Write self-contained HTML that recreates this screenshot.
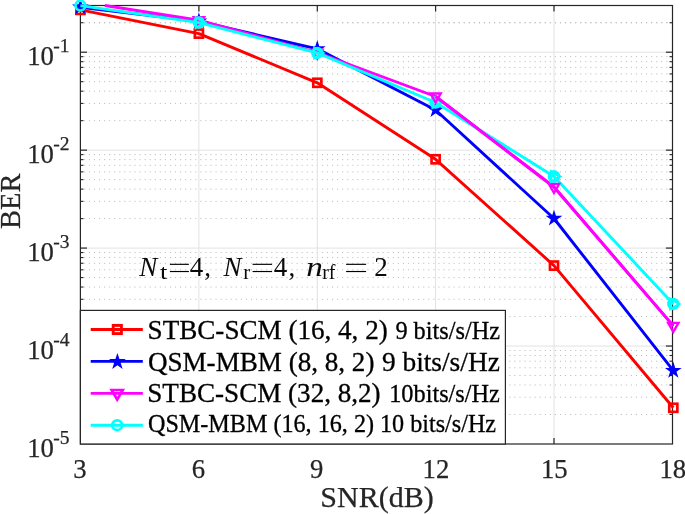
<!DOCTYPE html>
<html><head><meta charset="utf-8"><title>BER</title>
<style>html,body{margin:0;padding:0;background:#fff;}svg{display:block;will-change:transform;}text{font-family:"Liberation Serif",serif;fill:#262626;stroke:#262626;stroke-width:0.25px;}.k{fill:#000;stroke:#000;stroke-width:0.3px;}.a{fill:#0a0a0a;stroke:none;}</style></head><body>
<svg width="685" height="514" viewBox="0 0 685 514">
<rect width="685" height="514" fill="#fff"/>
<line x1="83.8" x2="672.5" y1="22.72" y2="22.72" stroke="#bcbcbc" stroke-width="1" stroke-dasharray="1.1 3.9654"/>
<line x1="83.8" x2="672.5" y1="120.66" y2="120.66" stroke="#bcbcbc" stroke-width="1" stroke-dasharray="1.1 3.9654"/>
<line x1="83.8" x2="672.5" y1="103.41" y2="103.41" stroke="#bcbcbc" stroke-width="1" stroke-dasharray="1.1 3.9654"/>
<line x1="83.8" x2="672.5" y1="91.17" y2="91.17" stroke="#bcbcbc" stroke-width="1" stroke-dasharray="1.1 3.9654"/>
<line x1="83.8" x2="672.5" y1="81.68" y2="81.68" stroke="#bcbcbc" stroke-width="1" stroke-dasharray="1.1 3.9654"/>
<line x1="83.8" x2="672.5" y1="73.93" y2="73.93" stroke="#bcbcbc" stroke-width="1" stroke-dasharray="1.1 3.9654"/>
<line x1="83.8" x2="672.5" y1="67.37" y2="67.37" stroke="#bcbcbc" stroke-width="1" stroke-dasharray="1.1 3.9654"/>
<line x1="83.8" x2="672.5" y1="61.69" y2="61.69" stroke="#bcbcbc" stroke-width="1" stroke-dasharray="1.1 3.9654"/>
<line x1="83.8" x2="672.5" y1="56.68" y2="56.68" stroke="#bcbcbc" stroke-width="1" stroke-dasharray="1.1 3.9654"/>
<line x1="83.8" x2="672.5" y1="218.60" y2="218.60" stroke="#bcbcbc" stroke-width="1" stroke-dasharray="1.1 3.9654"/>
<line x1="83.8" x2="672.5" y1="201.35" y2="201.35" stroke="#bcbcbc" stroke-width="1" stroke-dasharray="1.1 3.9654"/>
<line x1="83.8" x2="672.5" y1="189.11" y2="189.11" stroke="#bcbcbc" stroke-width="1" stroke-dasharray="1.1 3.9654"/>
<line x1="83.8" x2="672.5" y1="179.62" y2="179.62" stroke="#bcbcbc" stroke-width="1" stroke-dasharray="1.1 3.9654"/>
<line x1="83.8" x2="672.5" y1="171.87" y2="171.87" stroke="#bcbcbc" stroke-width="1" stroke-dasharray="1.1 3.9654"/>
<line x1="83.8" x2="672.5" y1="165.31" y2="165.31" stroke="#bcbcbc" stroke-width="1" stroke-dasharray="1.1 3.9654"/>
<line x1="83.8" x2="672.5" y1="159.63" y2="159.63" stroke="#bcbcbc" stroke-width="1" stroke-dasharray="1.1 3.9654"/>
<line x1="83.8" x2="672.5" y1="154.62" y2="154.62" stroke="#bcbcbc" stroke-width="1" stroke-dasharray="1.1 3.9654"/>
<line x1="83.8" x2="672.5" y1="316.54" y2="316.54" stroke="#bcbcbc" stroke-width="1" stroke-dasharray="1.1 3.9654"/>
<line x1="83.8" x2="672.5" y1="299.29" y2="299.29" stroke="#bcbcbc" stroke-width="1" stroke-dasharray="1.1 3.9654"/>
<line x1="83.8" x2="672.5" y1="287.05" y2="287.05" stroke="#bcbcbc" stroke-width="1" stroke-dasharray="1.1 3.9654"/>
<line x1="83.8" x2="672.5" y1="277.56" y2="277.56" stroke="#bcbcbc" stroke-width="1" stroke-dasharray="1.1 3.9654"/>
<line x1="83.8" x2="672.5" y1="269.81" y2="269.81" stroke="#bcbcbc" stroke-width="1" stroke-dasharray="1.1 3.9654"/>
<line x1="83.8" x2="672.5" y1="263.25" y2="263.25" stroke="#bcbcbc" stroke-width="1" stroke-dasharray="1.1 3.9654"/>
<line x1="83.8" x2="672.5" y1="257.57" y2="257.57" stroke="#bcbcbc" stroke-width="1" stroke-dasharray="1.1 3.9654"/>
<line x1="83.8" x2="672.5" y1="252.56" y2="252.56" stroke="#bcbcbc" stroke-width="1" stroke-dasharray="1.1 3.9654"/>
<line x1="83.8" x2="672.5" y1="414.48" y2="414.48" stroke="#bcbcbc" stroke-width="1" stroke-dasharray="1.1 3.9654"/>
<line x1="83.8" x2="672.5" y1="397.23" y2="397.23" stroke="#bcbcbc" stroke-width="1" stroke-dasharray="1.1 3.9654"/>
<line x1="83.8" x2="672.5" y1="384.99" y2="384.99" stroke="#bcbcbc" stroke-width="1" stroke-dasharray="1.1 3.9654"/>
<line x1="83.8" x2="672.5" y1="375.50" y2="375.50" stroke="#bcbcbc" stroke-width="1" stroke-dasharray="1.1 3.9654"/>
<line x1="83.8" x2="672.5" y1="367.75" y2="367.75" stroke="#bcbcbc" stroke-width="1" stroke-dasharray="1.1 3.9654"/>
<line x1="83.8" x2="672.5" y1="361.19" y2="361.19" stroke="#bcbcbc" stroke-width="1" stroke-dasharray="1.1 3.9654"/>
<line x1="83.8" x2="672.5" y1="355.51" y2="355.51" stroke="#bcbcbc" stroke-width="1" stroke-dasharray="1.1 3.9654"/>
<line x1="83.8" x2="672.5" y1="350.50" y2="350.50" stroke="#bcbcbc" stroke-width="1" stroke-dasharray="1.1 3.9654"/>
<line x1="83.8" x2="672.5" y1="22.72" y2="22.72" stroke="#bcbcbc" stroke-width="1" stroke-dasharray="1.1 3.9654"/>
<line x1="80.4" x2="672.5" y1="52.20" y2="52.20" stroke="#e2e2e2" stroke-width="1"/>
<line x1="80.4" x2="672.5" y1="150.14" y2="150.14" stroke="#e2e2e2" stroke-width="1"/>
<line x1="80.4" x2="672.5" y1="248.08" y2="248.08" stroke="#e2e2e2" stroke-width="1"/>
<line x1="80.4" x2="672.5" y1="346.02" y2="346.02" stroke="#e2e2e2" stroke-width="1"/>
<line x1="198.9" x2="198.9" y1="5.5" y2="444.0" stroke="#e2e2e2" stroke-width="1"/>
<line x1="317.3" x2="317.3" y1="5.5" y2="444.0" stroke="#e2e2e2" stroke-width="1"/>
<line x1="435.6" x2="435.6" y1="5.5" y2="444.0" stroke="#e2e2e2" stroke-width="1"/>
<line x1="554.0" x2="554.0" y1="5.5" y2="444.0" stroke="#e2e2e2" stroke-width="1"/>
<rect x="80.4" y="5.5" width="592.1" height="438.5" fill="none" stroke="#262626" stroke-width="1.2"/>
<line x1="198.9" x2="198.9" y1="444.0" y2="438.0" stroke="#262626" stroke-width="1.2"/>
<line x1="198.9" x2="198.9" y1="5.5" y2="11.5" stroke="#262626" stroke-width="1.2"/>
<line x1="317.3" x2="317.3" y1="444.0" y2="438.0" stroke="#262626" stroke-width="1.2"/>
<line x1="317.3" x2="317.3" y1="5.5" y2="11.5" stroke="#262626" stroke-width="1.2"/>
<line x1="435.6" x2="435.6" y1="444.0" y2="438.0" stroke="#262626" stroke-width="1.2"/>
<line x1="435.6" x2="435.6" y1="5.5" y2="11.5" stroke="#262626" stroke-width="1.2"/>
<line x1="554.0" x2="554.0" y1="444.0" y2="438.0" stroke="#262626" stroke-width="1.2"/>
<line x1="554.0" x2="554.0" y1="5.5" y2="11.5" stroke="#262626" stroke-width="1.2"/>
<line x1="80.4" x2="87.0" y1="52.20" y2="52.20" stroke="#262626" stroke-width="1.2"/>
<line x1="672.5" x2="665.9" y1="52.20" y2="52.20" stroke="#262626" stroke-width="1.2"/>
<line x1="80.4" x2="87.0" y1="150.14" y2="150.14" stroke="#262626" stroke-width="1.2"/>
<line x1="672.5" x2="665.9" y1="150.14" y2="150.14" stroke="#262626" stroke-width="1.2"/>
<line x1="80.4" x2="87.0" y1="248.08" y2="248.08" stroke="#262626" stroke-width="1.2"/>
<line x1="672.5" x2="665.9" y1="248.08" y2="248.08" stroke="#262626" stroke-width="1.2"/>
<line x1="80.4" x2="87.0" y1="346.02" y2="346.02" stroke="#262626" stroke-width="1.2"/>
<line x1="672.5" x2="665.9" y1="346.02" y2="346.02" stroke="#262626" stroke-width="1.2"/>
<line x1="80.4" x2="83.4" y1="22.72" y2="22.72" stroke="#262626" stroke-width="1.1"/>
<line x1="672.5" x2="669.5" y1="22.72" y2="22.72" stroke="#262626" stroke-width="1.1"/>
<line x1="80.4" x2="83.4" y1="120.66" y2="120.66" stroke="#262626" stroke-width="1.1"/>
<line x1="672.5" x2="669.5" y1="120.66" y2="120.66" stroke="#262626" stroke-width="1.1"/>
<line x1="80.4" x2="83.4" y1="103.41" y2="103.41" stroke="#262626" stroke-width="1.1"/>
<line x1="672.5" x2="669.5" y1="103.41" y2="103.41" stroke="#262626" stroke-width="1.1"/>
<line x1="80.4" x2="83.4" y1="91.17" y2="91.17" stroke="#262626" stroke-width="1.1"/>
<line x1="672.5" x2="669.5" y1="91.17" y2="91.17" stroke="#262626" stroke-width="1.1"/>
<line x1="80.4" x2="83.4" y1="81.68" y2="81.68" stroke="#262626" stroke-width="1.1"/>
<line x1="672.5" x2="669.5" y1="81.68" y2="81.68" stroke="#262626" stroke-width="1.1"/>
<line x1="80.4" x2="83.4" y1="73.93" y2="73.93" stroke="#262626" stroke-width="1.1"/>
<line x1="672.5" x2="669.5" y1="73.93" y2="73.93" stroke="#262626" stroke-width="1.1"/>
<line x1="80.4" x2="83.4" y1="67.37" y2="67.37" stroke="#262626" stroke-width="1.1"/>
<line x1="672.5" x2="669.5" y1="67.37" y2="67.37" stroke="#262626" stroke-width="1.1"/>
<line x1="80.4" x2="83.4" y1="61.69" y2="61.69" stroke="#262626" stroke-width="1.1"/>
<line x1="672.5" x2="669.5" y1="61.69" y2="61.69" stroke="#262626" stroke-width="1.1"/>
<line x1="80.4" x2="83.4" y1="56.68" y2="56.68" stroke="#262626" stroke-width="1.1"/>
<line x1="672.5" x2="669.5" y1="56.68" y2="56.68" stroke="#262626" stroke-width="1.1"/>
<line x1="80.4" x2="83.4" y1="218.60" y2="218.60" stroke="#262626" stroke-width="1.1"/>
<line x1="672.5" x2="669.5" y1="218.60" y2="218.60" stroke="#262626" stroke-width="1.1"/>
<line x1="80.4" x2="83.4" y1="201.35" y2="201.35" stroke="#262626" stroke-width="1.1"/>
<line x1="672.5" x2="669.5" y1="201.35" y2="201.35" stroke="#262626" stroke-width="1.1"/>
<line x1="80.4" x2="83.4" y1="189.11" y2="189.11" stroke="#262626" stroke-width="1.1"/>
<line x1="672.5" x2="669.5" y1="189.11" y2="189.11" stroke="#262626" stroke-width="1.1"/>
<line x1="80.4" x2="83.4" y1="179.62" y2="179.62" stroke="#262626" stroke-width="1.1"/>
<line x1="672.5" x2="669.5" y1="179.62" y2="179.62" stroke="#262626" stroke-width="1.1"/>
<line x1="80.4" x2="83.4" y1="171.87" y2="171.87" stroke="#262626" stroke-width="1.1"/>
<line x1="672.5" x2="669.5" y1="171.87" y2="171.87" stroke="#262626" stroke-width="1.1"/>
<line x1="80.4" x2="83.4" y1="165.31" y2="165.31" stroke="#262626" stroke-width="1.1"/>
<line x1="672.5" x2="669.5" y1="165.31" y2="165.31" stroke="#262626" stroke-width="1.1"/>
<line x1="80.4" x2="83.4" y1="159.63" y2="159.63" stroke="#262626" stroke-width="1.1"/>
<line x1="672.5" x2="669.5" y1="159.63" y2="159.63" stroke="#262626" stroke-width="1.1"/>
<line x1="80.4" x2="83.4" y1="154.62" y2="154.62" stroke="#262626" stroke-width="1.1"/>
<line x1="672.5" x2="669.5" y1="154.62" y2="154.62" stroke="#262626" stroke-width="1.1"/>
<line x1="80.4" x2="83.4" y1="316.54" y2="316.54" stroke="#262626" stroke-width="1.1"/>
<line x1="672.5" x2="669.5" y1="316.54" y2="316.54" stroke="#262626" stroke-width="1.1"/>
<line x1="80.4" x2="83.4" y1="299.29" y2="299.29" stroke="#262626" stroke-width="1.1"/>
<line x1="672.5" x2="669.5" y1="299.29" y2="299.29" stroke="#262626" stroke-width="1.1"/>
<line x1="80.4" x2="83.4" y1="287.05" y2="287.05" stroke="#262626" stroke-width="1.1"/>
<line x1="672.5" x2="669.5" y1="287.05" y2="287.05" stroke="#262626" stroke-width="1.1"/>
<line x1="80.4" x2="83.4" y1="277.56" y2="277.56" stroke="#262626" stroke-width="1.1"/>
<line x1="672.5" x2="669.5" y1="277.56" y2="277.56" stroke="#262626" stroke-width="1.1"/>
<line x1="80.4" x2="83.4" y1="269.81" y2="269.81" stroke="#262626" stroke-width="1.1"/>
<line x1="672.5" x2="669.5" y1="269.81" y2="269.81" stroke="#262626" stroke-width="1.1"/>
<line x1="80.4" x2="83.4" y1="263.25" y2="263.25" stroke="#262626" stroke-width="1.1"/>
<line x1="672.5" x2="669.5" y1="263.25" y2="263.25" stroke="#262626" stroke-width="1.1"/>
<line x1="80.4" x2="83.4" y1="257.57" y2="257.57" stroke="#262626" stroke-width="1.1"/>
<line x1="672.5" x2="669.5" y1="257.57" y2="257.57" stroke="#262626" stroke-width="1.1"/>
<line x1="80.4" x2="83.4" y1="252.56" y2="252.56" stroke="#262626" stroke-width="1.1"/>
<line x1="672.5" x2="669.5" y1="252.56" y2="252.56" stroke="#262626" stroke-width="1.1"/>
<line x1="80.4" x2="83.4" y1="414.48" y2="414.48" stroke="#262626" stroke-width="1.1"/>
<line x1="672.5" x2="669.5" y1="414.48" y2="414.48" stroke="#262626" stroke-width="1.1"/>
<line x1="80.4" x2="83.4" y1="397.23" y2="397.23" stroke="#262626" stroke-width="1.1"/>
<line x1="672.5" x2="669.5" y1="397.23" y2="397.23" stroke="#262626" stroke-width="1.1"/>
<line x1="80.4" x2="83.4" y1="384.99" y2="384.99" stroke="#262626" stroke-width="1.1"/>
<line x1="672.5" x2="669.5" y1="384.99" y2="384.99" stroke="#262626" stroke-width="1.1"/>
<line x1="80.4" x2="83.4" y1="375.50" y2="375.50" stroke="#262626" stroke-width="1.1"/>
<line x1="672.5" x2="669.5" y1="375.50" y2="375.50" stroke="#262626" stroke-width="1.1"/>
<line x1="80.4" x2="83.4" y1="367.75" y2="367.75" stroke="#262626" stroke-width="1.1"/>
<line x1="672.5" x2="669.5" y1="367.75" y2="367.75" stroke="#262626" stroke-width="1.1"/>
<line x1="80.4" x2="83.4" y1="361.19" y2="361.19" stroke="#262626" stroke-width="1.1"/>
<line x1="672.5" x2="669.5" y1="361.19" y2="361.19" stroke="#262626" stroke-width="1.1"/>
<line x1="80.4" x2="83.4" y1="355.51" y2="355.51" stroke="#262626" stroke-width="1.1"/>
<line x1="672.5" x2="669.5" y1="355.51" y2="355.51" stroke="#262626" stroke-width="1.1"/>
<line x1="80.4" x2="83.4" y1="350.50" y2="350.50" stroke="#262626" stroke-width="1.1"/>
<line x1="672.5" x2="669.5" y1="350.50" y2="350.50" stroke="#262626" stroke-width="1.1"/>
<polyline points="80.40,9.90 198.90,33.60 317.30,82.80 435.60,159.30 554.00,265.60 673.30,407.80" fill="none" stroke="#ff0000" stroke-width="2.9" stroke-linejoin="round"/>
<rect x="76.35" y="5.85" width="8.1" height="8.1" fill="none" stroke="#ff0000" stroke-width="2.65"/>
<rect x="194.85" y="29.55" width="8.1" height="8.1" fill="none" stroke="#ff0000" stroke-width="2.65"/>
<rect x="313.25" y="78.75" width="8.1" height="8.1" fill="none" stroke="#ff0000" stroke-width="2.65"/>
<rect x="431.55" y="155.25" width="8.1" height="8.1" fill="none" stroke="#ff0000" stroke-width="2.65"/>
<rect x="549.95" y="261.55" width="8.1" height="8.1" fill="none" stroke="#ff0000" stroke-width="2.65"/>
<rect x="669.25" y="403.75" width="8.1" height="8.1" fill="none" stroke="#ff0000" stroke-width="2.65"/>
<polyline points="80.40,7.20 198.90,21.30 317.30,48.90 435.60,110.00 554.00,218.50 673.30,370.60" fill="none" stroke="#0000ff" stroke-width="2.9" stroke-linejoin="round"/>
<polygon points="80.40,-1.60 82.38,4.48 88.77,4.48 83.60,8.24 85.57,14.32 80.40,10.56 75.23,14.32 77.20,8.24 72.03,4.48 78.42,4.48" fill="#0000ff"/>
<polygon points="198.90,12.50 200.88,18.58 207.27,18.58 202.10,22.34 204.07,28.42 198.90,24.66 193.73,28.42 195.70,22.34 190.53,18.58 196.92,18.58" fill="#0000ff"/>
<polygon points="317.30,40.10 319.28,46.18 325.67,46.18 320.50,49.94 322.47,56.02 317.30,52.26 312.13,56.02 314.10,49.94 308.93,46.18 315.32,46.18" fill="#0000ff"/>
<polygon points="435.60,101.20 437.58,107.28 443.97,107.28 438.80,111.04 440.77,117.12 435.60,113.36 430.43,117.12 432.40,111.04 427.23,107.28 433.62,107.28" fill="#0000ff"/>
<polygon points="554.00,209.70 555.98,215.78 562.37,215.78 557.20,219.54 559.17,225.62 554.00,221.86 548.83,225.62 550.80,219.54 545.63,215.78 552.02,215.78" fill="#0000ff"/>
<polygon points="673.30,361.80 675.28,367.88 681.67,367.88 676.50,371.64 678.47,377.72 673.30,373.96 668.13,377.72 670.10,371.64 664.93,367.88 671.32,367.88" fill="#0000ff"/>
<polyline points="104.80,5.50 198.90,20.20 317.30,52.60 435.60,96.50 554.00,187.00 673.30,325.85" fill="none" stroke="#ff00ff" stroke-width="2.9" stroke-linejoin="round"/>
<polygon points="193.70,17.20 204.10,17.20 198.90,26.20" fill="none" stroke="#ff00ff" stroke-width="2.3" stroke-linejoin="miter" stroke-miterlimit="10"/>
<polygon points="312.10,49.60 322.50,49.60 317.30,58.60" fill="none" stroke="#ff00ff" stroke-width="2.3" stroke-linejoin="miter" stroke-miterlimit="10"/>
<polyline points="80.40,5.60 198.90,22.60 317.30,52.90 435.60,102.50 554.00,176.60 673.30,303.90" fill="none" stroke="#00ffff" stroke-width="2.9" stroke-linejoin="round"/>
<circle cx="80.40" cy="5.60" r="4.9" fill="none" stroke="#00ffff" stroke-width="2.7"/>
<circle cx="198.90" cy="22.60" r="4.9" fill="none" stroke="#00ffff" stroke-width="2.7"/>
<polygon points="195.90,17.40 195.90,27.80 204.90,22.60" fill="none" stroke="#00ffff" stroke-width="2.3" stroke-linejoin="miter" stroke-miterlimit="10"/>
<circle cx="317.30" cy="52.90" r="4.9" fill="none" stroke="#00ffff" stroke-width="2.7"/>
<polygon points="314.30,47.70 314.30,58.10 323.30,52.90" fill="none" stroke="#00ffff" stroke-width="2.3" stroke-linejoin="miter" stroke-miterlimit="10"/>
<circle cx="435.60" cy="102.50" r="4.9" fill="none" stroke="#00ffff" stroke-width="2.7"/>
<polygon points="432.60,97.30 432.60,107.70 441.60,102.50" fill="none" stroke="#00ffff" stroke-width="2.3" stroke-linejoin="miter" stroke-miterlimit="10"/>
<circle cx="554.00" cy="176.60" r="4.9" fill="none" stroke="#00ffff" stroke-width="2.7"/>
<polygon points="551.00,171.40 551.00,181.80 560.00,176.60" fill="none" stroke="#00ffff" stroke-width="2.3" stroke-linejoin="miter" stroke-miterlimit="10"/>
<circle cx="673.30" cy="303.90" r="4.9" fill="none" stroke="#00ffff" stroke-width="2.7"/>
<polygon points="670.30,298.70 670.30,309.10 679.30,303.90" fill="none" stroke="#00ffff" stroke-width="2.3" stroke-linejoin="miter" stroke-miterlimit="10"/>
<polyline points="435.60,96.50 554.00,187.00 673.30,325.85" fill="none" stroke="#ff00ff" stroke-width="2.9" stroke-linejoin="round"/>
<polygon points="430.40,93.50 440.80,93.50 435.60,102.50" fill="none" stroke="#ff00ff" stroke-width="2.3" stroke-linejoin="miter" stroke-miterlimit="10"/>
<polygon points="548.80,184.00 559.20,184.00 554.00,193.00" fill="none" stroke="#ff00ff" stroke-width="2.3" stroke-linejoin="miter" stroke-miterlimit="10"/>
<polygon points="668.10,322.85 678.50,322.85 673.30,331.85" fill="none" stroke="#ff00ff" stroke-width="2.3" stroke-linejoin="miter" stroke-miterlimit="10"/>
<circle cx="554.00" cy="176.60" r="4.9" fill="none" stroke="#00ffff" stroke-width="2.7"/>
<polygon points="551.00,171.40 551.00,181.80 560.00,176.60" fill="none" stroke="#00ffff" stroke-width="2.3" stroke-linejoin="miter" stroke-miterlimit="10"/>
<text x="79.8" y="477.9" font-size="26.7" text-anchor="middle">3</text>
<text x="198.3" y="477.9" font-size="26.7" text-anchor="middle">6</text>
<text x="316.7" y="477.9" font-size="26.7" text-anchor="middle">9</text>
<text x="435.9" y="477.9" font-size="26.7" text-anchor="middle">12</text>
<text x="554.3" y="477.9" font-size="26.7" text-anchor="middle">15</text>
<text x="672.8" y="477.9" font-size="26.7" text-anchor="middle">18</text>
<text x="27.2" y="64.9" font-size="26.7">10</text>
<text x="53.3" y="52.2" font-size="19.5">-1</text>
<text x="27.2" y="162.8" font-size="26.7">10</text>
<text x="53.3" y="150.1" font-size="19.5">-2</text>
<text x="27.2" y="260.8" font-size="26.7">10</text>
<text x="53.3" y="248.1" font-size="19.5">-3</text>
<text x="27.2" y="358.7" font-size="26.7">10</text>
<text x="53.3" y="346.0" font-size="19.5">-4</text>
<text x="27.2" y="456.7" font-size="26.7">10</text>
<text x="53.3" y="444.0" font-size="19.5">-5</text>
<text x="377.0" y="507.2" font-size="30" text-anchor="middle">SNR(dB)</text>
<text transform="translate(19.9,201.3) rotate(-90) scale(0.95,1)" font-size="30" text-anchor="middle">BER</text>
<text class="a" x="139.3" y="275.7" font-size="27" font-style="italic">N</text>
<text class="a" x="160.0" y="279.0" font-size="22" textLength="7.4" lengthAdjust="spacingAndGlyphs">t</text>
<rect x="169.9" y="263.75" width="19.0" height="1.15" fill="#000"/><rect x="169.9" y="270.95" width="19.0" height="1.15" fill="#000"/>
<text class="a" x="189.8" y="275.7" font-size="27">4</text>
<text class="a" x="204.3" y="275.7" font-size="27">,</text>
<text class="a" x="223.4" y="275.7" font-size="27" font-style="italic">N</text>
<text class="a" x="243.2" y="279.0" font-size="21">r</text>
<rect x="252.6" y="263.75" width="19.5" height="1.15" fill="#000"/><rect x="252.6" y="270.95" width="19.5" height="1.15" fill="#000"/>
<text class="a" x="273.7" y="275.7" font-size="27">4</text>
<text class="a" x="288.6" y="275.7" font-size="27">,</text>
<text class="a" x="306.3" y="275.7" font-size="28" font-style="italic" textLength="16.6" lengthAdjust="spacingAndGlyphs">n</text>
<text class="a" x="322.2" y="279.0" font-size="20">rf</text>
<rect x="346.1" y="263.75" width="20.0" height="1.15" fill="#000"/><rect x="346.1" y="270.95" width="20.0" height="1.15" fill="#000"/>
<text class="a" x="374.3" y="275.7" font-size="27">2</text>
<rect x="80.4" y="310.4" width="425.0" height="133.60000000000002" fill="#fff" stroke="#262626" stroke-width="1.2"/>
<line x1="90.7" x2="142.8" y1="329.5" y2="329.5" stroke="#ff0000" stroke-width="2.9"/>
<line x1="90.7" x2="142.8" y1="361.4" y2="361.4" stroke="#0000ff" stroke-width="2.9"/>
<line x1="90.7" x2="142.8" y1="393.4" y2="393.4" stroke="#ff00ff" stroke-width="2.9"/>
<line x1="90.7" x2="142.8" y1="425.2" y2="425.2" stroke="#00ffff" stroke-width="2.9"/>
<rect x="113.20" y="325.40" width="8.2" height="8.2" fill="none" stroke="#ff0000" stroke-width="2.9"/>
<polygon points="117.40,352.90 119.40,359.05 125.86,359.05 120.63,362.85 122.63,369.00 117.40,365.20 112.17,369.00 114.17,362.85 108.94,359.05 115.40,359.05" fill="#0000ff"/>
<polygon points="111.66,390.00 122.74,390.00 117.20,399.60" fill="none" stroke="#ff00ff" stroke-width="2.7" stroke-linejoin="miter" stroke-miterlimit="10"/>
<circle cx="117.20" cy="425.20" r="4.9" fill="none" stroke="#00ffff" stroke-width="2.7"/>
<text class="k" x="147.6" y="338.7" font-size="27.1">STBC-SCM (16, 4, 2)</text>
<text class="k" x="395.4" y="338.7" font-size="24.3">9 bits/s/Hz</text>
<text class="k" x="147.9" y="370.5" font-size="27.1">QSM-MBM (8, 8, 2)</text>
<text class="k" x="381.9" y="370.5" font-size="27.4">9 bits/s/Hz</text>
<text class="k" x="147.3" y="402.4" font-size="27.1">STBC-SCM (32, 8,2)</text>
<text class="k" x="389.2" y="402.4" font-size="24.3">10bits/s/Hz</text>
<text class="k" x="148.0" y="432.4" font-size="24.15">QSM-MBM (16, 16, 2) 10 bits/s/Hz</text>
</svg></body></html>
